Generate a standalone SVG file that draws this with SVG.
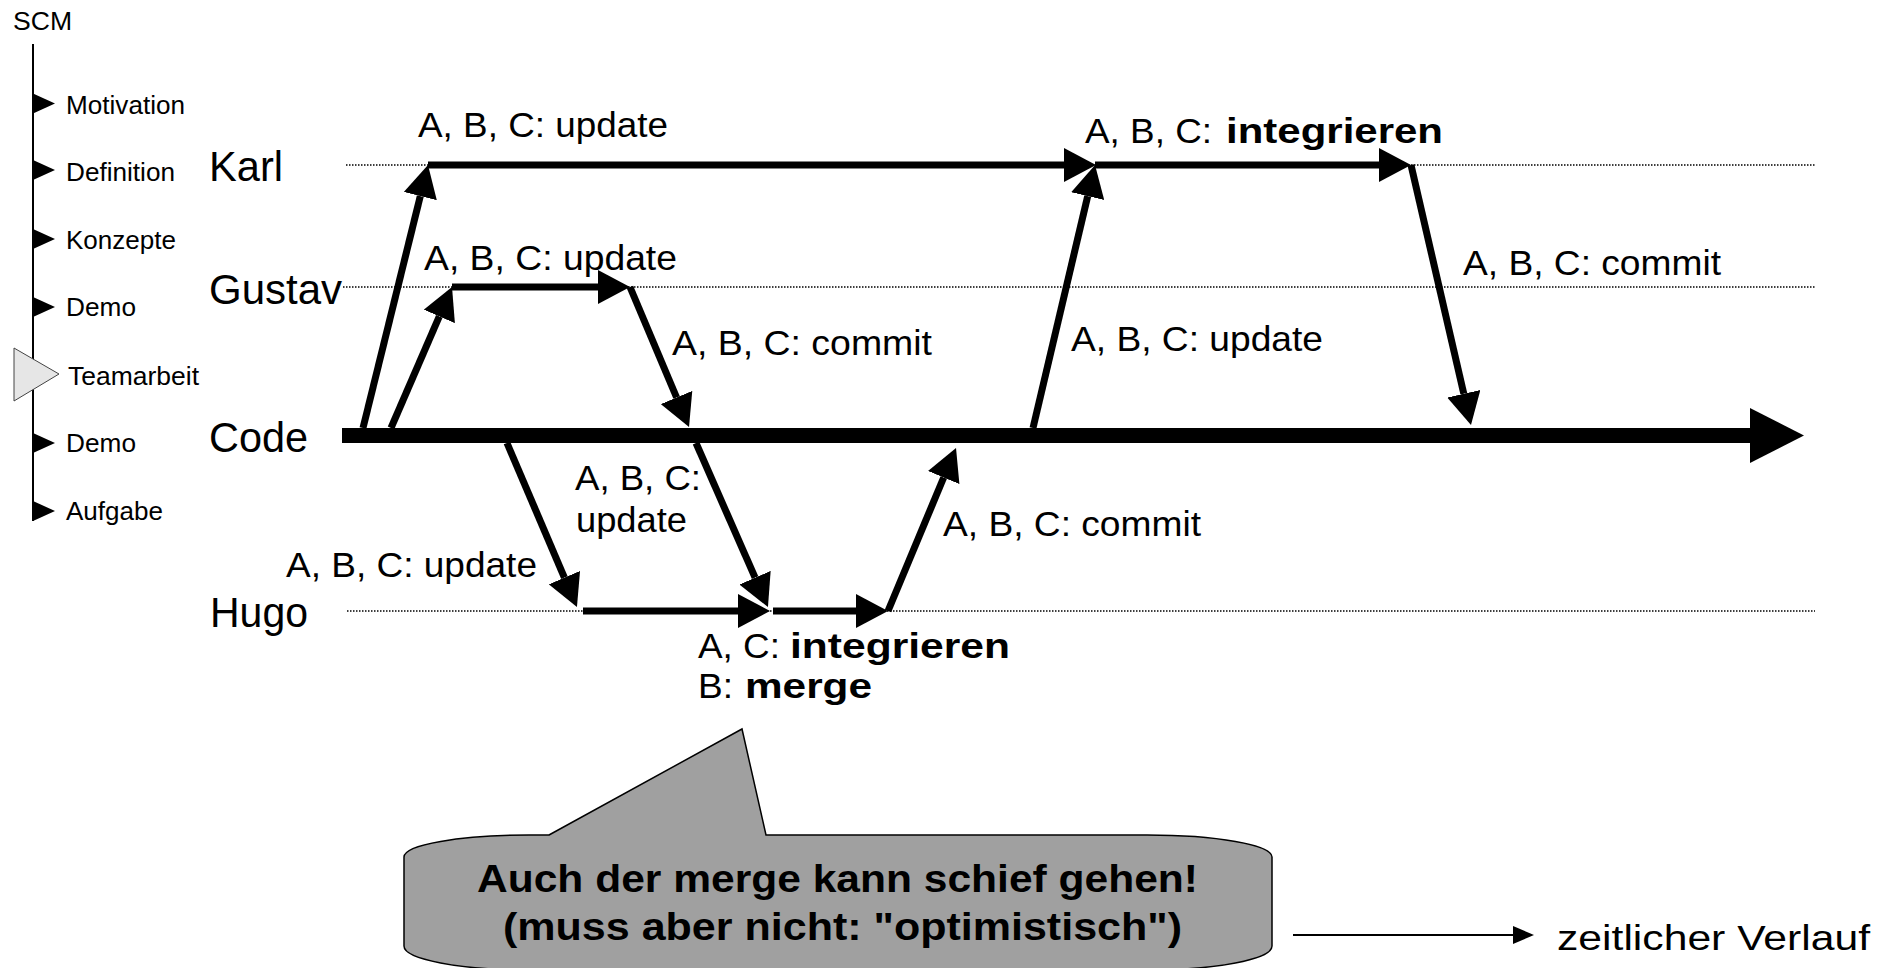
<svg xmlns="http://www.w3.org/2000/svg" width="1896" height="968" viewBox="0 0 1896 968">
<style>
.menu{font-family:"Liberation Sans",Arial,sans-serif;font-size:26px;fill:#000}
.name{font-family:"Liberation Sans",Arial,sans-serif;font-size:42px;fill:#000}
.lbl{font-family:"Liberation Sans",Arial,sans-serif;font-size:35px;fill:#000}
.b{font-weight:bold}
.call{font-family:"Liberation Sans",Arial,sans-serif;font-size:39px;font-weight:bold;fill:#000}
.dot{stroke:#000;stroke-width:1.3;stroke-dasharray:1.5 1.5;fill:none}
.thick{stroke:#000;stroke-width:7;fill:none;marker-end:url(#ah)}
.tri{fill:#000}
</style>
<defs>
<marker id="ah" markerUnits="userSpaceOnUse" viewBox="0 -17 32 34" refX="0" refY="0" markerWidth="32" markerHeight="34" orient="auto">
<path d="M0,-17 L32,0 L0,17 z" fill="#000"/>
</marker>
</defs>
<rect width="1896" height="968" fill="#fff"/>

<g id="nav">
<text class="menu" x="13" y="30" font-size="25" textLength="59" lengthAdjust="spacingAndGlyphs">SCM</text>
<line x1="33" y1="44" x2="33" y2="521" stroke="#000" stroke-width="2"/>
<polygon class="tri" points="33,93.5 55,103.5 33,113.5"/>
<text class="menu" x="66" y="113.5" textLength="119" lengthAdjust="spacingAndGlyphs">Motivation</text>
<polygon class="tri" points="33,160 55,170 33,180"/>
<text class="menu" x="66" y="181" textLength="109" lengthAdjust="spacingAndGlyphs">Definition</text>
<polygon class="tri" points="33,229 55,239 33,249"/>
<text class="menu" x="66" y="249" textLength="110" lengthAdjust="spacingAndGlyphs">Konzepte</text>
<polygon class="tri" points="33,297 55,307 33,317"/>
<text class="menu" x="66" y="316" textLength="70" lengthAdjust="spacingAndGlyphs">Demo</text>
<polygon points="14,348 59,374 14,401" fill="#e6e6e6" stroke="#444" stroke-width="1"/>
<text class="menu" x="68" y="385" textLength="131" lengthAdjust="spacingAndGlyphs">Teamarbeit</text>
<polygon class="tri" points="33,433 55,443 33,453"/>
<text class="menu" x="66" y="452" textLength="70" lengthAdjust="spacingAndGlyphs">Demo</text>
<polygon class="tri" points="33,501 55,511 33,521"/>
<text class="menu" x="66" y="520" textLength="97" lengthAdjust="spacingAndGlyphs">Aufgabe</text>
</g>

<g id="karl"><text class="name" x="209" y="181" textLength="74" lengthAdjust="spacingAndGlyphs">Karl</text><line class="dot" x1="346" y1="165" x2="1815" y2="165"/></g>
<g id="gustav"><text class="name" x="209" y="304" textLength="133" lengthAdjust="spacingAndGlyphs">Gustav</text><line class="dot" x1="343" y1="287" x2="1815" y2="287"/></g>
<g id="hugo"><text class="name" x="210" y="627" textLength="98" lengthAdjust="spacingAndGlyphs">Hugo</text><line class="dot" x1="347" y1="611" x2="1815" y2="611"/></g>
<g id="code"><text class="name" x="209" y="452" textLength="99" lengthAdjust="spacingAndGlyphs">Code</text>
<line x1="342" y1="435.5" x2="1752" y2="435.5" stroke="#000" stroke-width="15"/>
<polygon points="1750,408 1804,435.5 1750,463" fill="#000"/></g>

<g id="connectors">
<line class="thick" x1="363" y1="428" x2="420.3" y2="196.1"/>
<line class="thick" x1="428" y1="165" x2="1064" y2="165"/>
<line class="thick" x1="1033" y1="428" x2="1087.7" y2="196.1"/>
<line class="thick" x1="1095" y1="165" x2="1379" y2="165"/>
<line class="thick" x1="1411" y1="165" x2="1463.8" y2="393.8"/>
<line class="thick" x1="391" y1="428" x2="439.3" y2="316.4"/>
<line class="thick" x1="452" y1="287" x2="598" y2="287"/>
<line class="thick" x1="630" y1="287" x2="676.6" y2="397.5"/>
<line class="thick" x1="507" y1="443" x2="564.4" y2="577.6"/>
<line class="thick" x1="583" y1="611" x2="738" y2="611"/>
<line class="thick" x1="696" y1="443" x2="755.1" y2="577.7"/>
<line class="thick" x1="773" y1="611" x2="856" y2="611"/>
<line class="thick" x1="888" y1="611" x2="943.7" y2="477.5"/>
</g>

<g id="labels">
<text class="lbl" x="418" y="137" textLength="250" lengthAdjust="spacingAndGlyphs">A, B, C: update</text>
<text class="lbl" x="1085" y="143" textLength="127" lengthAdjust="spacingAndGlyphs">A, B, C:</text>
<text class="lbl b" x="1226" y="143" textLength="217" lengthAdjust="spacingAndGlyphs">integrieren</text>
<text class="lbl" x="424" y="270" textLength="253" lengthAdjust="spacingAndGlyphs">A, B, C: update</text>
<text class="lbl" x="672" y="355" textLength="260" lengthAdjust="spacingAndGlyphs">A, B, C: commit</text>
<text class="lbl" x="1071" y="351" textLength="252" lengthAdjust="spacingAndGlyphs">A, B, C: update</text>
<text class="lbl" x="1463" y="275" textLength="258" lengthAdjust="spacingAndGlyphs">A, B, C: commit</text>
<text class="lbl" x="575" y="490" textLength="126" lengthAdjust="spacingAndGlyphs">A, B, C:</text>
<text class="lbl" x="576" y="532" textLength="111" lengthAdjust="spacingAndGlyphs">update</text>
<text class="lbl" x="286" y="577" textLength="251" lengthAdjust="spacingAndGlyphs">A, B, C: update</text>
<text class="lbl" x="943" y="536" textLength="258" lengthAdjust="spacingAndGlyphs">A, B, C: commit</text>
<text class="lbl" x="698" y="658" textLength="82" lengthAdjust="spacingAndGlyphs">A, C:</text>
<text class="lbl b" x="790" y="658" textLength="220" lengthAdjust="spacingAndGlyphs">integrieren</text>
<text class="lbl" x="698" y="698" textLength="35" lengthAdjust="spacingAndGlyphs">B:</text>
<text class="lbl b" x="745" y="698" textLength="127" lengthAdjust="spacingAndGlyphs">merge</text>
</g>

<g id="callout">
<path d="M549,835 L742,729 L766,835 L1147,835 A125,22 0 0 1 1272,857 L1272,946 A125,24 0 0 1 1147,970 L529,970 A125,24 0 0 1 404,946 L404,857 A125,22 0 0 1 529,835 Z" fill="#a0a0a0" stroke="#000" stroke-width="1.5"/>
<text class="call" x="477" y="892" textLength="721" lengthAdjust="spacingAndGlyphs">Auch der merge kann schief gehen!</text>
<text class="call" x="503" y="940" textLength="679" lengthAdjust="spacingAndGlyphs">(muss aber nicht: "optimistisch")</text>
</g>

<g id="legend">
<line x1="1293" y1="935" x2="1514" y2="935" stroke="#000" stroke-width="2"/>
<polygon points="1513,926 1534,935 1513,944" fill="#000"/>
<text class="lbl" x="1557" y="950" font-size="36" textLength="313" lengthAdjust="spacingAndGlyphs">zeitlicher Verlauf</text>
</g>
</svg>
